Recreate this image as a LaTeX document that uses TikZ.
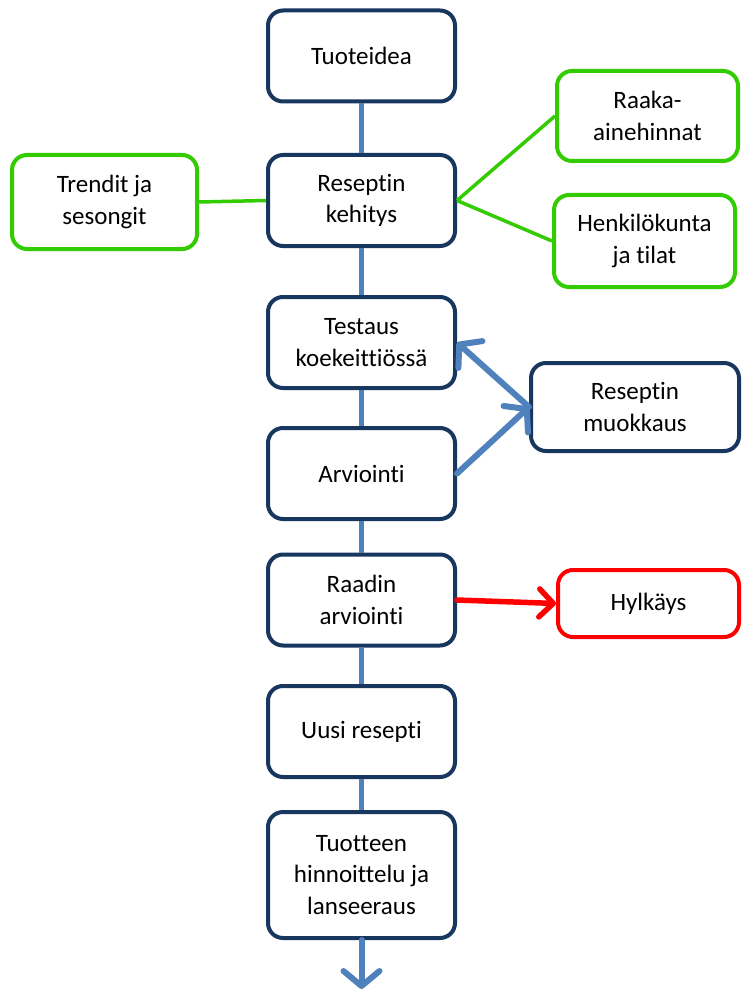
\documentclass[tikz,border=0pt]{standalone}
\usepackage{fontspec}
\setmainfont{Carlito}[Ligatures={NoCommon,NoContextual}]
\usetikzlibrary{arrows.meta}
\definecolor{navy}{RGB}{23,55,94}
\definecolor{linkblue}{RGB}{79,129,189}
\definecolor{limegreen}{RGB}{51,204,0}
\definecolor{alertred}{RGB}{255,0,0}
\begin{document}
\begin{tikzpicture}[x=1pt,y=-1pt,
  basebox/.style={line width=4pt, rounded corners=15pt, fill=white, align=center,
    font=\fontsize{25}{31.5}\selectfont, inner sep=0pt},
  mainbox/.style={basebox, draw=navy, minimum width=187pt, minimum height=91pt},
  greenbox/.style={basebox, draw=limegreen},
  redbox/.style={basebox, draw=alertred},
  vline/.style={draw=linkblue, line width=5.5pt},
  gline/.style={draw=limegreen, line width=3.5pt},
  barrow/.style={draw=linkblue, line width=6pt, line cap=round,
    -{Straight Barb[length=15pt,width=36pt,round]}},
  rarrow/.style={draw=alertred, line width=5.5pt, line cap=round,
    -{Straight Barb[length=14pt,width=28pt,round]}}
]
\useasboundingbox (0,0) rectangle (741,992);
\fill[white] (0,0) rectangle (741,992);

% main column
\node[mainbox] (tuote) at (361.5,56) {Tuoteidea};
\node[mainbox] (resk) at (361.5,200.5) {Reseptin\\kehitys};
\node[mainbox] (test) at (361.5,342.5) {Testaus\\koekeittiössä};
\node[mainbox] (arv) at (361.5,473.5) {Arviointi};
\node[mainbox] (raad) at (361.5,600) {Raadin\\arviointi};
\node[mainbox] (uusi) at (361.5,731.5) {Uusi resepti};
\node[mainbox, minimum height=126pt] (tuot) at (361.5,875) {Tuotteen\\hinnoittelu ja\\lanseeraus};

% side boxes
\node[greenbox, minimum width=185pt, minimum height=94pt] (trend) at (104.5,202) {Trendit ja\\sesongit};
\node[greenbox, minimum width=181pt, minimum height=90pt] (raaka) at (647.5,116) {Raaka-\\ainehinnat};
\node[greenbox, minimum width=181pt, minimum height=92pt] (henk) at (644.5,241) {Henkilökunta\\ja tilat};
\node[mainbox, minimum width=208pt, minimum height=88pt] (muok) at (635,407) {Reseptin\\muokkaus};
\node[redbox, minimum width=181pt, minimum height=67pt] (hyl) at (648.5,603.5) {Hylkäys};

\coordinate (bottomend) at (361.5,989);

% vertical connectors
\draw[vline] (tuote.south) -- (resk.north);
\draw[vline] (resk.south) -- (test.north);
\draw[vline] (test.south) -- (arv.north);
\draw[vline] (arv.south) -- (raad.north);
\draw[vline] (raad.south) -- (uusi.north);
\draw[vline] (uusi.south) -- (tuot.north);
\draw[barrow] (tuot.south) -- (bottomend);

% green links
\draw[gline] (trend.east) -- (resk.west);
\draw[gline] (resk.east) -- (raaka.west);
\draw[gline] (resk.east) -- (henk.west);

% feedback arrows
\draw[barrow] (muok.west) -- (test.east);
\draw[barrow] (arv.east) -- (muok.west);

% rejection
\draw[rarrow] (raad.east) -- (hyl.west);
\end{tikzpicture}
\end{document}
